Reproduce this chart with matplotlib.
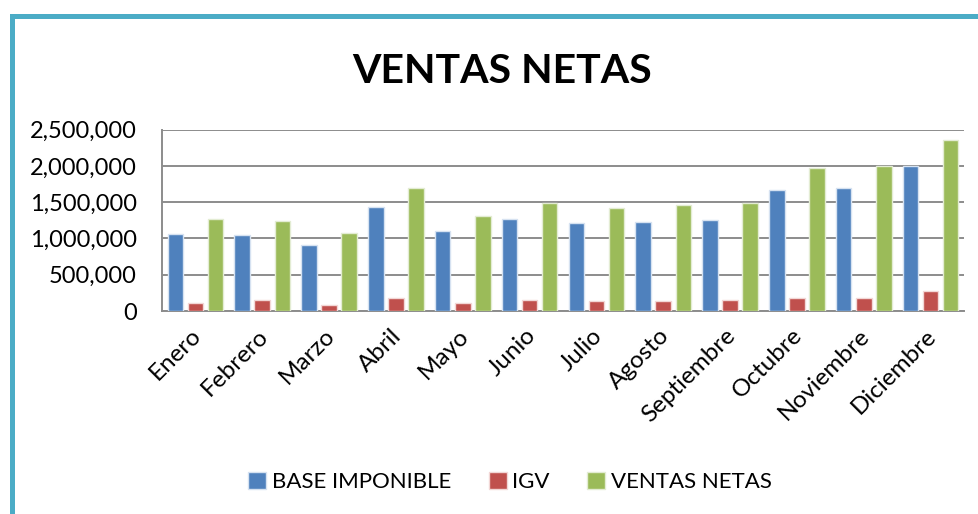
import matplotlib
matplotlib.use("Agg")
import matplotlib.pyplot as plt
import numpy as np
from matplotlib.patches import Rectangle
from matplotlib.ticker import FuncFormatter, MultipleLocator
import matplotlib.transforms as mtransforms

months = ["Enero", "Febrero", "Marzo", "Abril", "Mayo", "Junio", "Julio",
          "Agosto", "Septiembre", "Octubre", "Noviembre", "Diciembre"]
base_imponible = [1063000, 1045000, 916000, 1436000, 1105000, 1266000,
                  1211000, 1229000, 1261000, 1662000, 1694000, 2005000]
igv = [106000, 147000, 78000, 175000, 115000, 147000,
       133000, 138000, 147000, 175000, 184000, 281000]
ventas_netas = [1266000, 1238000, 1073000, 1694000, 1308000, 1496000,
                1427000, 1455000, 1492000, 1966000, 2002000, 2362000]
series_names = ["BASE IMPONIBLE", "IGV", "VENTAS NETAS"]
colors = ["#4F81BD", "#C0504D", "#9BBB59"]
edges = ["#D6E2F1", "#F2D7D6", "#E3ECD3"]

plt.rcParams['font.family'] = ['Lato', 'DejaVu Sans']

W, H = 979, 514
fig = plt.figure(figsize=(W / 100, H / 100), dpi=100)
ax = fig.add_axes([162 / W, 1 - 311 / H, (964 - 162) / W, (311 - 129.7) / H])

x = np.arange(len(months))
bw = 0.233
step = 0.3
for i, (vals, c, e, name) in enumerate(zip([base_imponible, igv, ventas_netas], colors, edges, series_names)):
    ax.bar(x + (i - 1) * step, vals, width=bw, color=c, edgecolor=e, linewidth=1.0,
           label=name, zorder=3)

ax.set_xlim(-0.5, len(months) - 0.5)
ax.set_ylim(0, 2500000)
ax.yaxis.set_major_locator(MultipleLocator(500000))
ax.yaxis.set_major_formatter(FuncFormatter(lambda v, p: f"{v:,.0f}"))
ax.grid(axis='y', color='#8C8C8C', linewidth=1.4, zorder=0)
ax.set_axisbelow(True)
for s in ['top', 'right']:
    ax.spines[s].set_visible(False)
for s in ['left', 'bottom']:
    ax.spines[s].set_color('#8C8C8C')
    ax.spines[s].set_linewidth(1.4)

ax.tick_params(axis='y', length=0, pad=18, labelsize=17)
ax.set_xticks(x)
ax.set_xticklabels(months, rotation=45, ha='right', va='top', rotation_mode='anchor', fontsize=17.5)
ax.tick_params(axis='x', length=0, pad=10)
shift = mtransforms.ScaledTranslation(-5 / 100, 0, fig.dpi_scale_trans)
for lab in ax.get_xticklabels():
    lab.set_transform(lab.get_transform() + shift)

fig.text(502.5 / W, 1 - 83 / H, "VENTAS NETAS", ha='center', va='baseline',
         fontsize=29.5, fontweight='bold')

leg = fig.legend(loc='center', bbox_to_anchor=(510 / W, 1 - 482 / H), ncol=3, frameon=False,
                 fontsize=16, handlelength=0.8, handleheight=0.8, handletextpad=0.25,
                 columnspacing=1.7)

teal = "#4BACC6"
fig.add_artist(Rectangle((9.7 / W, 1 - 19 / H), 1 - 9.7 / W, 5 / H, transform=fig.transFigure,
                         facecolor=teal, edgecolor='none'))
fig.add_artist(Rectangle((9.7 / W, 0), 5.3 / W, 1 - 14 / H, transform=fig.transFigure,
                         facecolor=teal, edgecolor='none'))

fig.savefig("out.png", dpi=100)
